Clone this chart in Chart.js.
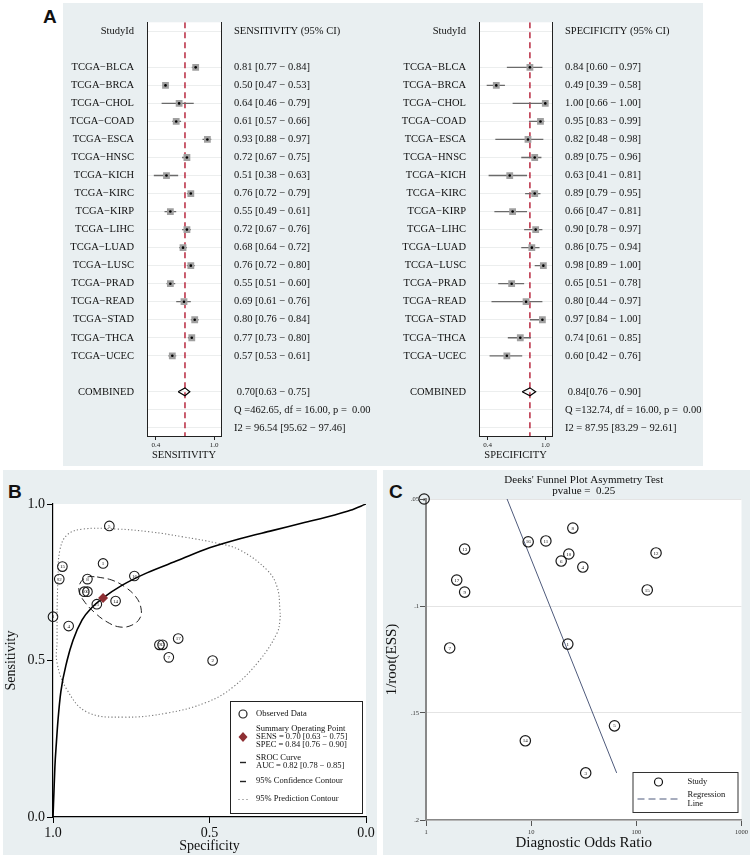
<!DOCTYPE html>
<html>
<head>
<meta charset="utf-8">
<script src="https://cdn.jsdelivr.net/npm/chart.js@4.4.1/dist/chart.umd.min.js"></script>
<style>
  body { margin: 0; width: 753px; height: 858px; position: relative; background: #fff; overflow: hidden; }
  .panel { position: absolute; background: #e9eff1; }
  .tag { position: absolute; font: bold 19px "Liberation Sans", Arial, sans-serif; color: #111; }
  canvas { position: absolute; }
</style>
</head>
<body>
<div class="panel" style="left:63px;top:3px;width:640px;height:463px"></div>
<div class="panel" style="left:3px;top:470px;width:374px;height:385px"></div>
<div class="panel" style="left:383px;top:470px;width:367px;height:385px"></div>
<div class="tag" style="left:43px;top:6px">A</div>
<div class="tag" style="left:8px;top:481px">B</div>
<div class="tag" style="left:389px;top:481px">C</div>

<canvas id="sensForest" width="319" height="463" style="left:63px;top:3px"></canvas>
<canvas id="specForest" width="320" height="463" style="left:383px;top:3px"></canvas>
<canvas id="sroc" width="374" height="385" style="left:3px;top:470px"></canvas>
<canvas id="deeks" width="367" height="385" style="left:383px;top:470px"></canvas>

<script>
// ---- data ----
const studyIds = ['TCGA−BLCA', 'TCGA−BRCA', 'TCGA−CHOL', 'TCGA−COAD', 'TCGA−ESCA', 'TCGA−HNSC',
  'TCGA−KICH', 'TCGA−KIRC', 'TCGA−KIRP', 'TCGA−LIHC', 'TCGA−LUAD', 'TCGA−LUSC', 'TCGA−PRAD',
  'TCGA−READ', 'TCGA−STAD', 'TCGA−THCA', 'TCGA−UCEC'];

const sensEst  = [0.81, 0.50, 0.64, 0.61, 0.93, 0.72, 0.51, 0.76, 0.55, 0.72, 0.68, 0.76, 0.55, 0.69, 0.80, 0.77, 0.57];
const sensLow  = [0.77, 0.47, 0.46, 0.57, 0.88, 0.67, 0.38, 0.72, 0.49, 0.67, 0.64, 0.72, 0.51, 0.61, 0.76, 0.73, 0.53];
const sensHigh = [0.84, 0.53, 0.79, 0.66, 0.97, 0.75, 0.63, 0.79, 0.61, 0.76, 0.72, 0.80, 0.60, 0.76, 0.84, 0.80, 0.61];

const specEst  = [0.84, 0.49, 1.00, 0.95, 0.82, 0.89, 0.63, 0.89, 0.66, 0.90, 0.86, 0.98, 0.65, 0.80, 0.97, 0.74, 0.60];
const specLow  = [0.60, 0.39, 0.66, 0.83, 0.48, 0.75, 0.41, 0.79, 0.47, 0.78, 0.75, 0.89, 0.51, 0.44, 0.84, 0.61, 0.42];
const specHigh = [0.97, 0.58, 1.00, 0.99, 0.98, 0.96, 0.81, 0.95, 0.81, 0.97, 0.94, 1.00, 0.78, 0.97, 1.00, 0.85, 0.76];

const sensPooled = [0.70, 0.63, 0.75];
const specPooled = [0.84, 0.76, 0.90];
const sensStats = ['Q =462.65, df = 16.00, p =  0.00', 'I2 = 96.54 [95.62 − 97.46]'];
const specStats = ['Q =132.74, df = 16.00, p =  0.00', 'I2 = 87.95 [83.29 − 92.61]'];
const aucValues = [0.82, 0.78, 0.85];

// SROC curve (specificity, sensitivity)
const srocSpec = [1.0, 0.997, 0.994, 0.989, 0.984, 0.975, 0.955, 0.936, 0.907, 0.875, 0.84, 0.78, 0.70, 0.60, 0.50, 0.40, 0.30, 0.20, 0.10, 0.05, 0.0];
const srocSens = [0.0, 0.08, 0.16, 0.24, 0.31, 0.40, 0.50, 0.565, 0.63, 0.67, 0.70, 0.74, 0.78, 0.82, 0.86, 0.89, 0.915, 0.94, 0.965, 0.98, 1.0];

// 95% confidence contour
const confSpec = [0.859, 0.812, 0.770, 0.735, 0.719, 0.722, 0.748, 0.786, 0.827, 0.869, 0.901, 0.917, 0.911, 0.888, 0.859];
const confSens = [0.767, 0.757, 0.735, 0.703, 0.668, 0.636, 0.613, 0.607, 0.623, 0.655, 0.690, 0.722, 0.751, 0.767, 0.767];

// 95% prediction contour
const predSpec = [0.987, 0.984, 0.978, 0.955, 0.904, 0.796, 0.690, 0.585, 0.476, 0.403, 0.316, 0.284, 0.275, 0.275, 0.284, 0.339, 0.425, 0.508, 0.636, 0.776, 0.891, 0.955, 0.987, 0.987, 0.987];
const predSens = [0.661, 0.767, 0.853, 0.901, 0.920, 0.920, 0.911, 0.895, 0.875, 0.853, 0.789, 0.735, 0.661, 0.629, 0.588, 0.502, 0.415, 0.367, 0.332, 0.319, 0.335, 0.406, 0.492, 0.565, 0.661];

const summarySpec = 0.84;
const summarySens = 0.70;

// Deeks' funnel plot (study 1..17)
const dorValues = [22.3, 0.96, 33, 31, 62, 19.3, 1.68, 24.9, 2.33, 22.8, 13.8, 154, 2.33, 8.8, 127, 9.37, 1.96];
const essValues = [0.1178, 0.050, 0.178, 0.0818, 0.156, 0.079, 0.1196, 0.0636, 0.0935, 0.0757, 0.0696, 0.0752, 0.0734, 0.163, 0.0925, 0.070, 0.0879];
const regDor = [5.9, 65];
const regEss = [0.05, 0.178];
const deeksPvalue = '0.25';

// ---- shared setup ----
const SERIF = '"Liberation Serif", "Times New Roman", serif';
Chart.defaults.font.family = SERIF;
Chart.defaults.color = '#111';
Chart.defaults.animation = false;
Chart.defaults.events = [];
Chart.defaults.plugins.legend.display = false;
Chart.defaults.plugins.tooltip.enabled = false;

const fmt = v => v.toFixed(2);

// white plotting area
const plotBg = {
  id: 'plotBg',
  beforeDraw(chart) {
    const { ctx, chartArea: a } = chart;
    ctx.save();
    ctx.fillStyle = '#fff';
    ctx.fillRect(a.left, a.top, a.width, a.height);
    ctx.restore();
  }
};

// study numbers inside the circles
const pointNumbers = {
  id: 'pointNumbers',
  afterDatasetsDraw(chart) {
    const ctx = chart.ctx;
    chart.data.datasets.forEach((ds, di) => {
      if (!ds.numbered) return;
      const meta = chart.getDatasetMeta(di);
      ctx.save();
      ctx.font = '5px ' + SERIF;
      ctx.fillStyle = '#111';
      ctx.textAlign = 'center';
      ctx.textBaseline = 'middle';
      meta.data.forEach((el, i) => ctx.fillText(String(i + 1), el.x, el.y + 0.3));
      ctx.restore();
    });
  }
};

function forestChart(id, est, low, high, pooled, stats, header, title, leftW, rightW) {
  const leftLabels = ['StudyId', '', ...studyIds, '', 'COMBINED', '', ''];
  const rightLabels = [header, '',
    ...est.map((e, i) => `${fmt(e)} [${fmt(low[i])} − ${fmt(high[i])}]`),
    '', ` ${fmt(pooled[0])}[${fmt(pooled[1])} − ${fmt(pooled[2])}]`, stats[0], stats[1]];
  const rows = leftLabels.map((_, i) => i);
  const rowOf = i => i + 2;
  const combinedRow = 20;
  const yMin = -0.5, yMax = 22.45;

  const ciData = [];
  est.forEach((e, i) => {
    ciData.push({ x: low[i], y: rowOf(i) }, { x: high[i], y: rowOf(i) }, { x: NaN, y: NaN });
  });
  const points = est.map((e, i) => ({ x: e, y: rowOf(i) }));
  const diamond = [
    { x: pooled[1], y: combinedRow }, { x: pooled[0], y: combinedRow - 0.22 },
    { x: pooled[2], y: combinedRow }, { x: pooled[0], y: combinedRow + 0.22 },
    { x: pooled[1], y: combinedRow }
  ];

  const rowAxis = (labels, position, width, isMain) => ({
    type: 'linear', position, min: yMin, max: yMax, reverse: true,
    afterBuildTicks: a => { a.ticks = rows.map(v => ({ value: v })); },
    afterFit: a => { a.width = width; },
    ticks: { autoSkip: false, padding: 13, font: { size: 10.5 }, color: '#111',
      callback: (v, i) => labels[i] },
    grid: isMain
      ? { drawTicks: false, lineWidth: 1,
          color: c => (leftLabels[c.index] || rightLabels[c.index]) ? '#eceeee' : 'rgba(0,0,0,0)' }
      : { drawOnChartArea: false, drawTicks: false },
    border: { color: '#222', width: 1 }
  });

  return new Chart(id, {
    type: 'scatter',
    data: {
      datasets: [
        { data: [{ x: pooled[0], y: yMin }, { x: pooled[0], y: yMax }], showLine: true,
          borderColor: '#b8283f', borderWidth: 1.5, borderDash: [6, 4], pointRadius: 0, order: 5 },
        { data: ciData, showLine: true, spanGaps: false, borderColor: '#6a6a6a', borderWidth: 1.3,
          pointRadius: 0, order: 4 },
        { data: points, pointStyle: 'rect', pointRadius: 4.8, backgroundColor: '#a0a0a0',
          borderWidth: 0, order: 3 },
        { data: points, pointStyle: 'circle', pointRadius: 1.3, backgroundColor: '#000',
          borderWidth: 0, order: 2 },
        { data: diamond, showLine: true, borderColor: '#000', borderWidth: 1.2, pointRadius: 0,
          order: 1 }
      ]
    },
    options: {
      responsive: false,
      layout: { padding: { top: 10, left: 0, right: 0, bottom: 0 }, autoPadding: false },
      scales: {
        x: {
          type: 'linear', min: 0.31, max: 1.07,
          afterBuildTicks: a => { a.ticks = [{ value: 0.4 }, { value: 1.0 }]; },
          afterFit: a => { a.height = 30; },
          ticks: { autoSkip: false, callback: v => v.toFixed(1), font: { size: 7 }, color: '#222', padding: 1, maxRotation: 0 },
          grid: { drawOnChartArea: false, drawTicks: true, tickLength: 4, color: '#222' },
          border: { color: '#222', width: 1 },
          title: { display: true, text: title, font: { size: 10.5 }, color: '#111', padding: { top: 0, bottom: 4 } }
        },
        y: rowAxis(leftLabels, 'left', leftW, true),
        y2: rowAxis(rightLabels, 'right', rightW, false)
      }
    },
    plugins: [plotBg]
  });
}

forestChart('sensForest', sensEst, sensLow, sensHigh, sensPooled, sensStats,
  'SENSITIVITY (95% CI)', 'SENSITIVITY', 84, 161);
forestChart('specForest', specEst, specLow, specHigh, specPooled, specStats,
  'SPECIFICITY (95% CI)', 'SPECIFICITY', 96, 151);

// ---- B: SROC ----
const srocLegend = {
  id: 'srocLegend',
  afterDraw(chart) {
    const { ctx, chartArea: a } = chart;
    const x0 = a.right - 136, y0 = a.bottom - 116, w = 132, h = 112;
    ctx.save();
    ctx.fillStyle = '#fff';
    ctx.fillRect(x0, y0, w, h);
    ctx.strokeStyle = '#222';
    ctx.lineWidth = 1;
    ctx.strokeRect(x0 + 0.5, y0 + 0.5, w, h);
    ctx.font = '8.5px ' + SERIF;
    ctx.fillStyle = '#111';
    ctx.textBaseline = 'middle';
    const sx = x0 + 13, tx = x0 + 26;

    ctx.beginPath();
    ctx.arc(sx, y0 + 13, 4, 0, 2 * Math.PI);
    ctx.lineWidth = 1.2;
    ctx.stroke();
    ctx.fillText('Observed Data', tx, y0 + 13);

    ctx.fillStyle = '#8e2f33';
    ctx.beginPath();
    ctx.moveTo(sx, y0 + 31); ctx.lineTo(sx + 4.5, y0 + 36); ctx.lineTo(sx, y0 + 41); ctx.lineTo(sx - 4.5, y0 + 36);
    ctx.closePath();
    ctx.fill();
    ctx.fillStyle = '#111';
    ctx.fillText('Summary Operating Point', tx, y0 + 28);
    ctx.fillText(`SENS = ${fmt(sensPooled[0])} [${fmt(sensPooled[1])} − ${fmt(sensPooled[2])}]`, tx, y0 + 36);
    ctx.fillText(`SPEC = ${fmt(specPooled[0])} [${fmt(specPooled[1])} − ${fmt(specPooled[2])}]`, tx, y0 + 44);

    ctx.lineWidth = 1.4;
    ctx.beginPath(); ctx.moveTo(sx - 3, y0 + 61.5); ctx.lineTo(sx + 3, y0 + 61.5); ctx.stroke();
    ctx.fillText('SROC Curve', tx, y0 + 57);
    ctx.fillText(`AUC = ${fmt(aucValues[0])} [${fmt(aucValues[1])} − ${fmt(aucValues[2])}]`, tx, y0 + 65);

    ctx.beginPath(); ctx.moveTo(sx - 3, y0 + 80.5); ctx.lineTo(sx + 3, y0 + 80.5); ctx.stroke();
    ctx.fillText('95% Confidence Contour', tx, y0 + 80);

    ctx.fillStyle = '#666';
    [-4, 0, 4].forEach(d => ctx.fillRect(sx + d - 0.5, y0 + 98, 1, 1));
    ctx.fillStyle = '#111';
    ctx.fillText('95% Prediction Contour', tx, y0 + 98);
    ctx.restore();
  }
};

const xy = (xs, ys) => xs.map((x, i) => ({ x, y: ys[i] }));
const tick3 = a => { a.ticks = [{ value: 0 }, { value: 0.5 }, { value: 1 }]; };

new Chart('sroc', {
  type: 'scatter',
  data: {
    datasets: [
      { data: [{ x: summarySpec, y: summarySens }], pointStyle: 'rectRot', pointRadius: 5,
        backgroundColor: '#8e2f33', borderWidth: 0, order: 0 },
      { data: xy(specEst, sensEst), numbered: true, pointStyle: 'circle', pointRadius: 4.8,
        borderColor: '#1a1a1a', borderWidth: 1.1, backgroundColor: 'rgba(255,255,255,0)', clip: false, order: 1 },
      { data: xy(srocSpec, srocSens), showLine: true, borderColor: '#000', borderWidth: 1.6,
        pointRadius: 0, cubicInterpolationMode: 'monotone', order: 2 },
      { data: xy(confSpec, confSens), showLine: true, borderColor: '#222', borderWidth: 1,
        borderDash: [7, 4], pointRadius: 0, tension: 0.4, order: 3 },
      { data: xy(predSpec, predSens), showLine: true, borderColor: '#777', borderWidth: 1.1,
        borderDash: [1.2, 2.2], pointRadius: 0, tension: 0.4, order: 4 }
    ]
  },
  options: {
    responsive: false,
    layout: { padding: { top: 34, right: 11, left: 0, bottom: 0 }, autoPadding: false },
    scales: {
      x: {
        type: 'linear', min: 0, max: 1, reverse: true,
        afterBuildTicks: tick3,
        afterFit: a => { a.height = 38; },
        ticks: { autoSkip: false, callback: v => v.toFixed(1), font: { size: 14 }, color: '#111', padding: 2, maxRotation: 0 },
        grid: { drawOnChartArea: false, tickLength: 6, color: '#000' },
        border: { color: '#000', width: 1.2 },
        title: { display: true, text: 'Specificity', font: { size: 14 }, color: '#111', padding: 0 }
      },
      y: {
        type: 'linear', min: 0, max: 1,
        afterBuildTicks: tick3,
        afterFit: a => { a.width = 50; },
        ticks: { autoSkip: false, callback: v => v.toFixed(1), font: { size: 14 }, color: '#111', padding: 2 },
        grid: { drawOnChartArea: false, tickLength: 6, color: '#000' },
        border: { color: '#000', width: 1.2 },
        title: { display: true, text: 'Sensitivity', font: { size: 14 }, color: '#111', padding: 0 }
      }
    }
  },
  plugins: [plotBg, pointNumbers, srocLegend]
});

// ---- C: Deeks' funnel plot ----
const deeksDecor = {
  id: 'deeksDecor',
  afterDraw(chart) {
    const { ctx, chartArea: a } = chart;
    ctx.save();
    ctx.fillStyle = '#111';
    ctx.textAlign = 'center';
    ctx.textBaseline = 'middle';
    ctx.font = '11px ' + SERIF;
    const cx = (a.left + a.right) / 2;
    ctx.fillText("Deeks' Funnel Plot Asymmetry Test", cx, a.top - 19);
    ctx.fillText('pvalue =  ' + deeksPvalue, cx, a.top - 8);

    const x0 = a.right - 109, y0 = a.bottom - 48, w = 105, h = 40;
    ctx.fillStyle = '#fff';
    ctx.fillRect(x0, y0, w, h);
    ctx.strokeStyle = '#333';
    ctx.lineWidth = 1;
    ctx.strokeRect(x0 + 0.5, y0 + 0.5, w, h);
    ctx.lineWidth = 1.2;
    ctx.strokeStyle = '#111';
    ctx.beginPath();
    ctx.arc(x0 + 26, y0 + 10, 4, 0, 2 * Math.PI);
    ctx.stroke();
    ctx.strokeStyle = '#4f5b7c';
    ctx.lineWidth = 1;
    ctx.setLineDash([7, 4]);
    ctx.beginPath(); ctx.moveTo(x0 + 5, y0 + 27); ctx.lineTo(x0 + 48, y0 + 27); ctx.stroke();
    ctx.setLineDash([]);
    ctx.fillStyle = '#111';
    ctx.textAlign = 'left';
    ctx.font = '8.5px ' + SERIF;
    ctx.fillText('Study', x0 + 55, y0 + 10);
    ctx.fillText('Regression', x0 + 55, y0 + 23);
    ctx.fillText('Line', x0 + 55, y0 + 32);
    ctx.restore();
  }
};

new Chart('deeks', {
  type: 'scatter',
  data: {
    datasets: [
      { data: xy(dorValues, essValues), numbered: true, pointStyle: 'circle', pointRadius: 5.2,
        borderColor: '#1a1a1a', borderWidth: 1.2, backgroundColor: 'rgba(255,255,255,0)', clip: false, order: 0 },
      { data: xy(regDor, regEss), showLine: true, borderColor: '#4f5b7c', borderWidth: 1,
        pointRadius: 0, order: 1 }
    ]
  },
  options: {
    responsive: false,
    layout: { padding: { top: 29, right: 4, left: 0, bottom: 0 }, autoPadding: false },
    scales: {
      x: {
        type: 'logarithmic', min: 1, max: 1000,
        afterBuildTicks: a => { a.ticks = [1, 10, 100, 1000].map(v => ({ value: v, major: true })); },
        afterFit: a => { a.height = 35; },
        ticks: { autoSkip: false, callback: v => String(v), font: { size: 6.5 }, color: '#333', padding: 2, maxRotation: 0 },
        grid: { drawOnChartArea: false, tickLength: 6, color: '#555' },
        border: { color: '#888', width: 1.5 },
        title: { display: true, text: 'Diagnostic Odds Ratio', font: { size: 15 }, color: '#111',
          padding: { top: 0, bottom: 3 } }
      },
      y: {
        type: 'linear', min: 0.05, max: 0.2, reverse: true,
        afterBuildTicks: a => { a.ticks = [0.05, 0.1, 0.15, 0.2].map(v => ({ value: v })); },
        afterFit: a => { a.width = 43; },
        ticks: { autoSkip: false, callback: v => String(v).replace(/^0/, ''), font: { size: 6.5 }, color: '#333', padding: 1 },
        grid: { color: '#e4e4e4', tickColor: '#555', tickLength: 6 },
        border: { color: '#888', width: 2 },
        title: { display: true, text: '1/root(ESS)', font: { size: 15 }, color: '#111', padding: 0 }
      }
    }
  },
  plugins: [plotBg, pointNumbers, deeksDecor]
});
</script>
</body>
</html>
